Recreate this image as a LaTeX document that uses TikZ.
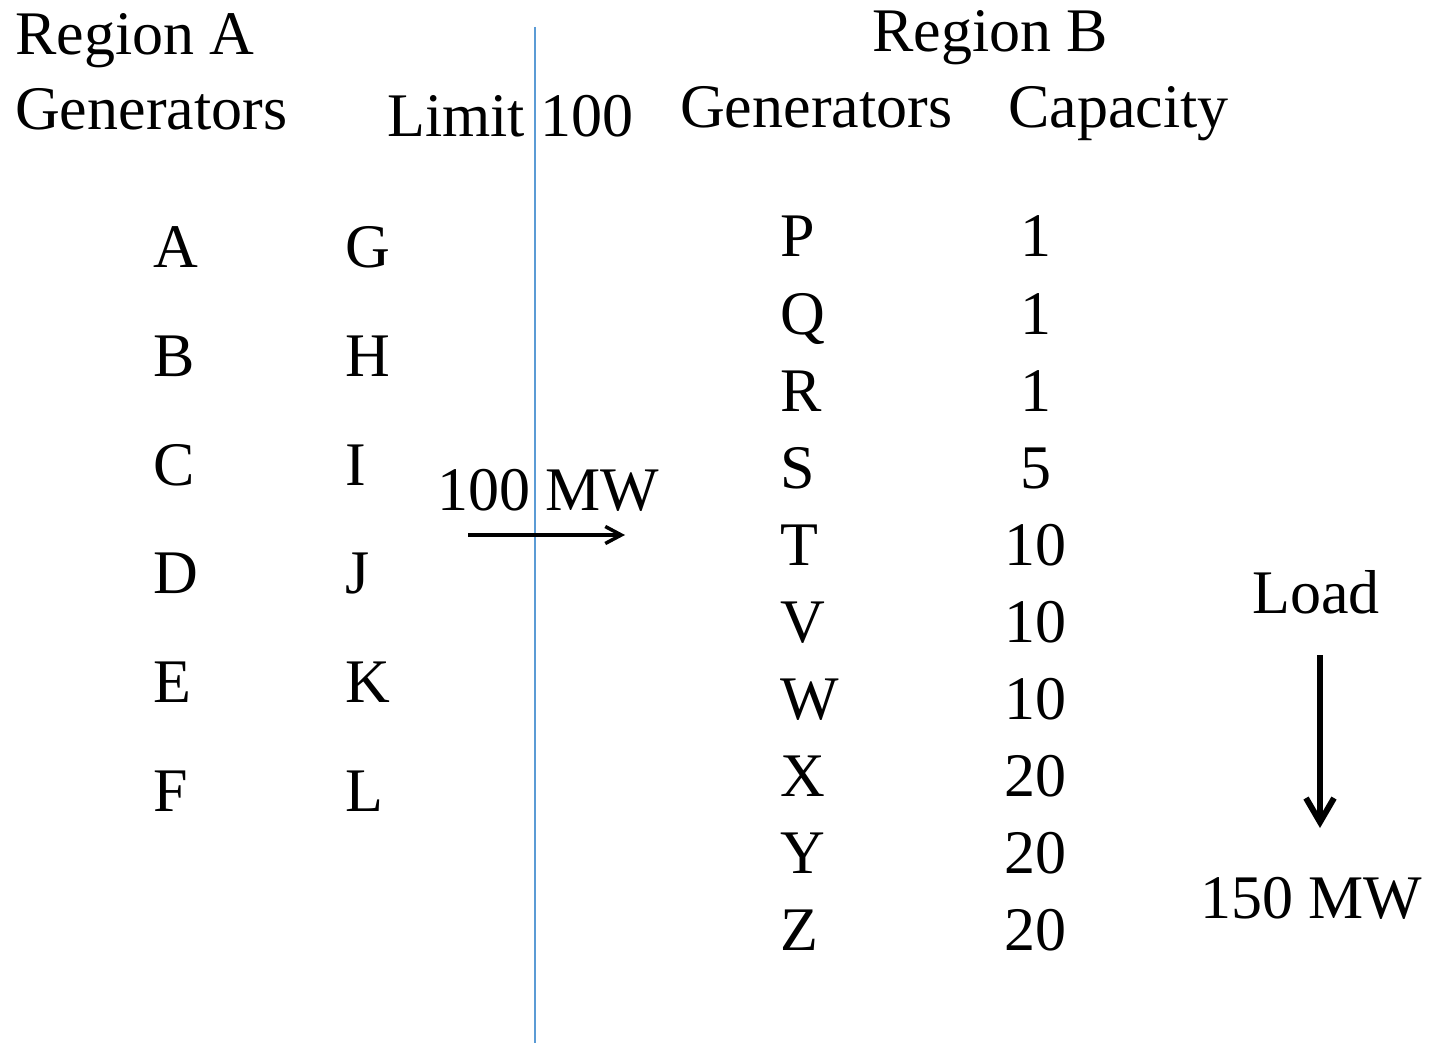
\documentclass[tikz,border=0pt]{standalone}
\usepackage{fontspec}
\setmainfont{Liberation Serif}
\usetikzlibrary{positioning,arrows.meta}
\newcommand\slidefont{\fontsize{62}{70}\selectfont}
\definecolor{splitblue}{RGB}{91,155,213}
\tikzset{
	every node/.style={font=\slidefont, inner sep=0pt},
	gen/.style={text width=60pt, align=left, text height=44pt, text depth=14pt},
	capval/.style={text width=80pt, align=center, text height=44pt, text depth=14pt},
}

\begin{document}
\begin{tikzpicture}[x=1pt,y=-1pt]
	\useasboundingbox (0,0) rectangle (1430,1043);
	% headings
	\node [anchor=base west] (regA) at (15,55) {Region A};
	\node [anchor=base west] (genA) at (15,130) {Generators};
	\node [anchor=base west] (lim) at (387,137) {Limit 100};
	\node [anchor=base west] (regB) at (872,52) {Region B};
	\node [anchor=base west] (genB) at (680,128) {Generators};
	\node [anchor=base west] (capB) at (1008,128) {Capacity};
	% region A generators
	\node [gen, anchor=base west] (A) at (153,268) {A};
	\node [gen, below=50.2pt of A] (B) {B};
	\node [gen, below=50.2pt of B] (C) {C};
	\node [gen, below=50.2pt of C] (D) {D};
	\node [gen, below=50.2pt of D] (E) {E};
	\node [gen, below=50.2pt of E] (F) {F};
	\node [gen, right=132pt of A] (G) {G};
	\node [gen, right=132pt of B] (H) {H};
	\node [gen, right=132pt of C] (I) {I};
	\node [gen, right=132pt of D] (J) {J};
	\node [gen, right=132pt of E] (K) {K};
	\node [gen, right=132pt of F] (L) {L};
	% region B generators
	\node [gen, anchor=base west] (P) at (780,257) {P};
	\node [gen, below=18.6pt of P] (Q) {Q};
	\node [gen, below=18.6pt of Q] (R) {R};
	\node [gen, below=18.6pt of R] (S) {S};
	\node [gen, below=18.6pt of S] (T) {T};
	\node [gen, below=18.6pt of T] (V) {V};
	\node [gen, below=18.6pt of V] (W) {W};
	\node [gen, below=18.6pt of W] (X) {X};
	\node [gen, below=18.6pt of X] (Y) {Y};
	\node [gen, below=18.6pt of Y] (Z) {Z};
	\node [capval, right=155pt of P] (cP) {1};
	\node [capval, right=155pt of Q] (cQ) {1};
	\node [capval, right=155pt of R] (cR) {1};
	\node [capval, right=155pt of S] (cS) {5};
	\node [capval, right=155pt of T] (cT) {10};
	\node [capval, right=155pt of V] (cV) {10};
	\node [capval, right=155pt of W] (cW) {10};
	\node [capval, right=155pt of X] (cX) {20};
	\node [capval, right=155pt of Y] (cY) {20};
	\node [capval, right=155pt of Z] (cZ) {20};
	% tie line and flows
	\coordinate (linetop) at (535,27);
	\coordinate (linebot) at (535,1043);
	\draw [splitblue, line width=1.5pt] (linetop) -- (linebot);
	\node [anchor=base west] (flow) at (437,510) {100 MW};
	\coordinate (flowstart) at (468,535);
	\coordinate (flowend) at (625,535);
	\draw [-{Straight Barb[length=16pt,width=17pt]}, line width=3.5pt] (flowstart) -- (flowend);
	\node [anchor=base west] (load) at (1252,613) {Load};
	\node [anchor=base west] (demand) at (1200,918) {150 MW};
	\coordinate (loadtop) at (1320,655);
	\coordinate (loadend) at (1320,828);
	\draw [-{Straight Barb[length=24pt,width=28pt]}, line width=6pt] (loadtop) -- (loadend);
\end{tikzpicture}
\end{document}
